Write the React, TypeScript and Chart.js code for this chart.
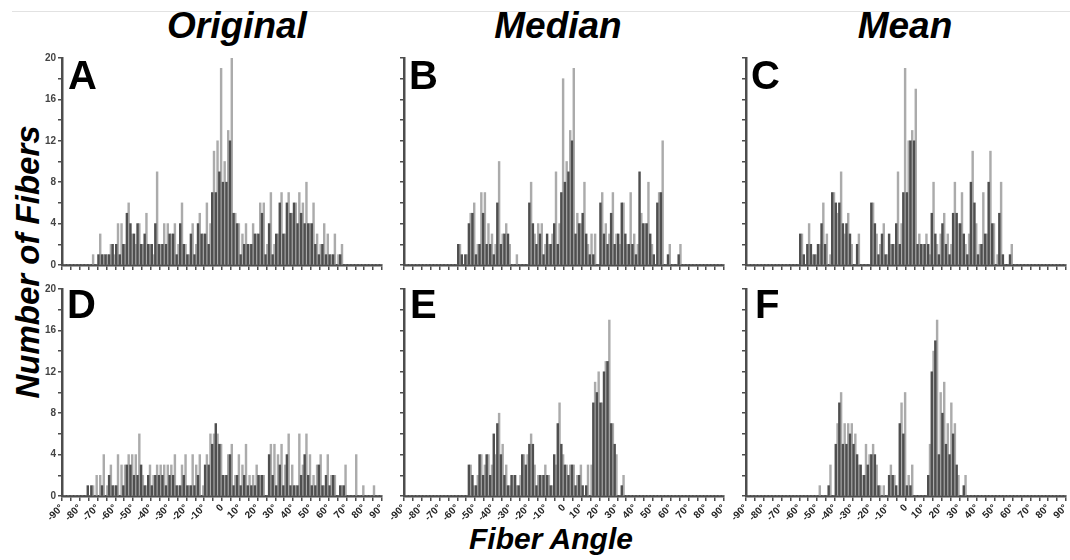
import React, { useEffect, useRef } from "react";
import { Chart, registerables } from "chart.js";

Chart.register(...registerables);

// 2-degree angle bins from -90° to 90°
const BIN_START = -90;
const BIN_WIDTH = 2;
const BIN_COUNT = 90;
const binCenters: number[] = Array.from({ length: BIN_COUNT }, (_, i) => BIN_START + BIN_WIDTH * i + BIN_WIDTH / 2);

const columnTitles = ["Original", "Median", "Mean"];
const yTickLabels = [0, 4, 8, 12, 16, 20];

// Panel A (Original, top)
const aDark = [
  0, 0, 0, 0, 0, 0, 0, 0, 0, 0,
  1, 1, 1, 1, 2, 2, 1, 2, 5, 4,
  3, 4, 2, 3, 2, 2, 4, 2, 2, 2,
  3, 3, 1, 4, 2, 1, 3, 1, 4, 3,
  3, 2, 7, 7, 9, 8, 8, 12, 5, 4,
  1, 2, 2, 2, 3, 3, 5, 1, 4, 1,
  3, 6, 3, 6, 5, 6, 4, 5, 4, 4,
  4, 2, 1, 2, 1, 1, 1, 0, 1, 0,
  0, 0, 0, 0, 0, 0, 0, 0, 0, 0,
];
const aLight = [
  0, 0, 0, 0, 0, 0, 0, 0, 1, 0,
  3, 1, 1, 2, 1, 4, 4, 2, 6, 3,
  2, 4, 2, 5, 2, 1, 9, 2, 4, 4,
  3, 4, 2, 6, 2, 1, 4, 2, 5, 3,
  6, 4, 11, 12, 19, 10, 13, 20, 5, 4,
  3, 4, 2, 4, 3, 6, 6, 2, 7, 2,
  3, 7, 3, 7, 5, 6, 7, 6, 8, 4,
  6, 3, 2, 4, 3, 1, 3, 1, 2, 0,
  0, 0, 0, 0, 0, 0, 0, 0, 0, 0,
];

// Panel B (Median, top)
const bDark = [
  0, 0, 0, 0, 0, 0, 0, 0, 0, 0,
  0, 0, 0, 0, 0, 2, 1, 1, 4, 5,
  1, 2, 5, 2, 2, 1, 6, 2, 3, 3,
  0, 0, 0, 0, 0, 6, 4, 2, 3, 1,
  3, 2, 4, 2, 7, 8, 9, 12, 3, 4,
  5, 3, 1, 1, 0, 6, 3, 2, 5, 2,
  3, 6, 3, 2, 2, 1, 9, 4, 4, 3,
  1, 6, 7, 0, 1, 0, 0, 1, 0, 0,
  0, 0, 0, 0, 0, 0, 0, 0, 0, 0,
];
const bLight = [
  0, 0, 0, 0, 0, 0, 0, 0, 0, 0,
  0, 0, 0, 0, 0, 2, 0, 1, 5, 6,
  2, 7, 7, 4, 3, 2, 10, 3, 4, 2,
  0, 1, 0, 0, 0, 8, 3, 4, 4, 2,
  2, 3, 9, 4, 18, 10, 13, 19, 5, 4,
  8, 2, 3, 3, 0, 7, 4, 3, 7, 3,
  2, 6, 2, 7, 3, 2, 5, 4, 8, 2,
  0, 7, 12, 0, 2, 0, 0, 2, 0, 0,
  0, 0, 0, 0, 0, 0, 0, 0, 0, 0,
];

// Panel C (Mean, top)
const cDark = [
  0, 0, 0, 0, 0, 0, 0, 0, 0, 0,
  0, 0, 0, 0, 0, 3, 1, 2, 2, 1,
  2, 4, 2, 0, 7, 6, 6, 4, 4, 3,
  0, 2, 0, 0, 0, 6, 4, 1, 3, 1,
  3, 2, 4, 2, 7, 7, 12, 12, 2, 2,
  2, 2, 5, 3, 1, 4, 2, 1, 5, 5,
  4, 3, 1, 8, 6, 1, 2, 3, 8, 4,
  0, 5, 1, 0, 1, 0, 0, 0, 0, 0,
  0, 0, 0, 0, 0, 0, 0, 0, 0, 0,
];
const cLight = [
  0, 0, 0, 0, 0, 0, 0, 0, 0, 0,
  0, 0, 0, 0, 0, 3, 0, 4, 1, 1,
  2, 6, 3, 1, 7, 5, 9, 3, 5, 2,
  0, 3, 0, 0, 0, 6, 3, 2, 4, 1,
  2, 2, 9, 4, 19, 12, 13, 17, 3, 2,
  3, 1, 8, 2, 3, 5, 3, 2, 8, 4,
  7, 2, 3, 11, 4, 2, 7, 3, 11, 4,
  1, 8, 0, 0, 2, 0, 0, 0, 0, 0,
  0, 0, 0, 0, 0, 0, 0, 0, 0, 0,
];

// Panel D (Original, bottom)
const dDark = [
  0, 0, 0, 0, 0, 0, 0, 1, 1, 0,
  0, 1, 0, 2, 1, 1, 0, 1, 3, 3,
  2, 2, 3, 1, 2, 1, 2, 2, 2, 1,
  2, 2, 1, 1, 2, 1, 1, 1, 2, 0,
  3, 3, 5, 7, 5, 2, 2, 4, 1, 2,
  1, 2, 1, 1, 1, 2, 2, 0, 4, 2,
  1, 3, 1, 4, 1, 1, 1, 2, 4, 2,
  1, 1, 3, 1, 2, 1, 2, 0, 1, 1,
  0, 0, 0, 0, 0, 0, 0, 0, 0, 0,
];
const dLight = [
  0, 0, 0, 0, 0, 0, 0, 0, 1, 2,
  2, 4, 1, 3, 1, 4, 3, 3, 4, 4,
  4, 6, 2, 1, 3, 2, 3, 3, 3, 3,
  3, 4, 1, 3, 4, 1, 4, 3, 4, 1,
  4, 6, 6, 6, 5, 2, 4, 5, 2, 4,
  3, 5, 2, 2, 3, 2, 2, 0, 5, 5,
  4, 5, 3, 6, 3, 1, 6, 3, 6, 4,
  2, 3, 4, 1, 4, 2, 2, 0, 1, 3,
  0, 0, 4, 0, 1, 0, 0, 1, 0, 0,
];

// Panel E (Median, bottom)
const eDark = [
  0, 0, 0, 0, 0, 0, 0, 0, 0, 0,
  0, 0, 0, 0, 0, 0, 0, 0, 3, 2,
  1, 4, 2, 4, 2, 6, 7, 4, 2, 1,
  2, 2, 1, 4, 3, 5, 5, 1, 2, 2,
  2, 1, 4, 7, 5, 3, 2, 3, 1, 2,
  1, 1, 0, 9, 10, 9, 12, 13, 7, 5,
  0, 1, 0, 0, 0, 0, 0, 0, 0, 0,
  0, 0, 0, 0, 0, 0, 0, 0, 0, 0,
  0, 0, 0, 0, 0, 0, 0, 0, 0, 0,
];
const eLight = [
  0, 0, 0, 0, 0, 0, 0, 0, 0, 0,
  0, 0, 0, 0, 0, 0, 0, 0, 3, 1,
  2, 4, 3, 4, 3, 4, 8, 5, 3, 1,
  2, 1, 2, 4, 4, 6, 3, 2, 2, 3,
  2, 1, 3, 9, 4, 3, 3, 3, 2, 3,
  0, 3, 3, 11, 12, 9, 13, 17, 7, 4,
  0, 2, 0, 0, 0, 0, 0, 0, 0, 0,
  0, 0, 0, 0, 0, 0, 0, 0, 0, 0,
  0, 0, 0, 0, 0, 0, 0, 0, 0, 0,
];

// Panel F (Mean, bottom)
const fDark = [
  0, 0, 0, 0, 0, 0, 0, 0, 0, 0,
  0, 0, 0, 0, 0, 0, 0, 0, 0, 0,
  0, 0, 0, 1, 0, 5, 9, 5, 5, 6,
  5, 4, 3, 2, 3, 4, 4, 1, 0, 0,
  2, 2, 1, 7, 6, 1, 1, 0, 0, 0,
  0, 2, 12, 15, 4, 8, 5, 4, 6, 3,
  0, 1, 0, 0, 0, 0, 0, 0, 0, 0,
  0, 0, 0, 0, 0, 0, 0, 0, 0, 0,
  0, 0, 0, 0, 0, 0, 0, 0, 0, 0,
];
const fLight = [
  0, 0, 0, 0, 0, 0, 0, 0, 0, 0,
  0, 0, 0, 0, 0, 0, 0, 0, 0, 0,
  1, 0, 0, 3, 0, 7, 10, 7, 7, 7,
  6, 3, 2, 5, 4, 5, 3, 1, 1, 0,
  3, 2, 0, 9, 10, 2, 3, 0, 0, 0,
  0, 5, 14, 17, 10, 11, 7, 9, 7, 2,
  0, 2, 0, 0, 0, 0, 0, 0, 0, 0,
  0, 0, 0, 0, 0, 0, 0, 0, 0, 0,
  0, 0, 0, 0, 0, 0, 0, 0, 0, 0,
];

const panelLetters = ["A", "B", "C", "D", "E", "F"];
const panelDark = [aDark, bDark, cDark, dDark, eDark, fDark];
const panelLight = [aLight, bLight, cLight, dLight, eLight, fLight];

// ---- layout (not data) ----
const FONT = '"Liberation Sans", Arial, Helvetica, sans-serif';
const AREA_W = 320;
const AREA_H = 207;
const YW = 34;
const PT = 10;
const PR = 10;
const colLeft = [62, 404, 746];
const rowTop = [58, 289];
const letterLeft = [68, 409, 751, 67, 410, 755];
const letterTop = [55, 55, 55, 284, 284, 284];
const AXIS = "#4d4d4d";
const DARK = "#4f4f4f";
const LIGHT = "#ababab";

function Panel({ index }: { index: number }) {
  const ref = useRef<HTMLCanvasElement>(null);
  const col = index % 3;
  const row = Math.floor(index / 3);
  const showY = col === 0;
  const showX = row === 1;
  const xh = showX ? 44 : 10;
  const width = YW + AREA_W + PR;
  const height = PT + AREA_H + xh;

  useEffect(() => {
    if (!ref.current) return;
    const dark = panelDark[index];
    const light = panelLight[index];
    const chart = new Chart(ref.current, {
      type: "bar",
      data: {
        datasets: [
          {
            data: binCenters.map((x, i) => ({ x, y: dark[i] })),
            backgroundColor: DARK,
            barPercentage: 1,
            categoryPercentage: 1,
            borderWidth: 0,
          },
          {
            data: binCenters.map((x, i) => ({ x, y: light[i] })),
            backgroundColor: LIGHT,
            barPercentage: 1,
            categoryPercentage: 1,
            borderWidth: 0,
          },
        ],
      } as any,
      options: {
        animation: false,
        responsive: false,
        maintainAspectRatio: false,
        layout: { padding: { top: PT, right: PR, left: 0, bottom: 0 } },
        plugins: { legend: { display: false }, tooltip: { enabled: false } },
        scales: {
          x: {
            type: "linear",
            min: -90,
            max: 90,
            offset: false,
            grid: { display: true, drawOnChartArea: false, drawTicks: true, tickLength: 5, color: AXIS, lineWidth: 1.5, offset: false },
            border: { display: true, color: AXIS, width: 2.5 },
            ticks: {
              display: showX,
              stepSize: 5,
              autoSkip: false,
              minRotation: 45,
              maxRotation: 45,
              padding: 1,
              color: "#222",
              font: { family: FONT, size: 10, weight: "bold" },
              callback: (v: any) => (Number(v) % 10 === 0 ? (Number(v) === 0 ? "0" : `${v}°`) : ""),
            },
            afterFit: (s: any) => {
              s.height = xh;
            },
          },
          y: {
            type: "linear",
            min: 0,
            max: 20,
            grid: { display: true, drawOnChartArea: false, drawTicks: true, tickLength: 4, color: AXIS, lineWidth: 1.5 },
            border: { display: true, color: AXIS, width: 2.5 },
            ticks: {
              stepSize: 2,
              autoSkip: false,
              padding: 2,
              color: "#444",
              font: { family: FONT, size: 10, weight: "bold" },
              callback: (v: any) => (showY && yTickLabels.includes(Number(v)) ? String(v) : ""),
            },
            afterFit: (s: any) => {
              s.width = YW;
            },
          },
        },
      } as any,
    });
    return () => chart.destroy();
  }, [index]);

  return (
    <canvas
      ref={ref}
      width={width}
      height={height}
      style={{
        position: "absolute",
        left: colLeft[col] - YW,
        top: rowTop[row] - PT,
        width,
        height,
      }}
    />
  );
}

export default function App() {
  const titleCenters = [237, 558, 905];
  return (
    <div
      style={{
        position: "absolute",
        left: 0,
        top: 0,
        width: 1070,
        height: 560,
        overflow: "hidden",
        background: "#fff",
        fontFamily: FONT,
      }}
    >
      <div style={{ position: "absolute", left: 12, top: 11, width: 1058, height: 0, borderTop: "1px solid #e2e2e2" }} />
      {columnTitles.map((t, i) => (
        <div
          key={t}
          style={{
            position: "absolute",
            left: titleCenters[i] - 150,
            width: 300,
            top: 8,
            textAlign: "center",
            fontSize: 37,
            lineHeight: "36px",
            fontWeight: "bold",
            fontStyle: "italic",
            color: "#000",
          }}
        >
          {t}
        </div>
      ))}
      <div
        style={{
          position: "absolute",
          left: 28 - 200,
          top: 262 - 18,
          width: 400,
          height: 36,
          lineHeight: "36px",
          textAlign: "center",
          fontSize: 33,
          fontWeight: "bold",
          fontStyle: "italic",
          transform: "rotate(-90deg)",
          color: "#000",
        }}
      >
        Number of Fibers
      </div>
      <div
        style={{
          position: "absolute",
          left: 551 - 200,
          width: 400,
          top: 522,
          textAlign: "center",
          fontSize: 30,
          lineHeight: "34px",
          fontWeight: "bold",
          fontStyle: "italic",
          color: "#000",
        }}
      >
        Fiber Angle
      </div>
      {panelLetters.map((_, i) => (
        <Panel key={i} index={i} />
      ))}
      {panelLetters.map((l, i) => (
        <div
          key={"L" + l}
          style={{
            position: "absolute",
            left: letterLeft[i],
            top: letterTop[i],
            fontSize: 40,
            lineHeight: "40px",
            fontWeight: "bold",
            color: "#000",
          }}
        >
          {l}
        </div>
      ))}
    </div>
  );
}
